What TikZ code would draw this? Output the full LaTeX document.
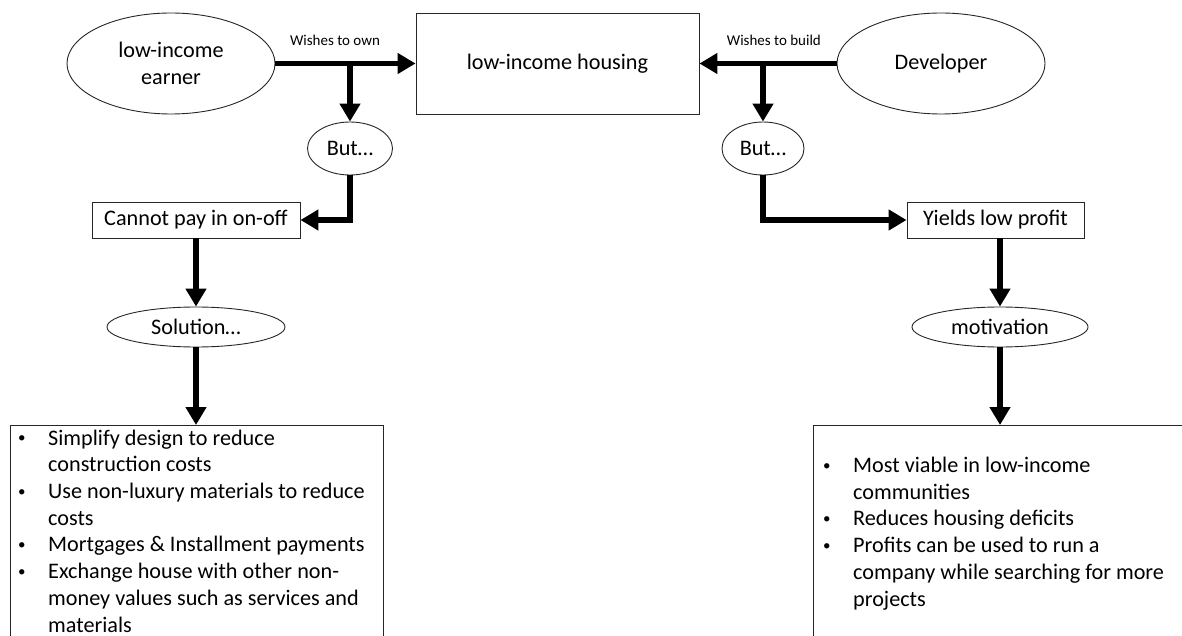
\documentclass[tikz,border=0pt]{standalone}
\usepackage{fontspec}
\setmainfont{Carlito}
\usetikzlibrary{arrows.meta,shapes.geometric}
\newcommand\bul{\makebox[29pt][l]{\hspace*{-1pt}{\fontsize{15}{15}\selectfont\raisebox{2.5pt}{\textbullet}}}}
\newcommand\ind{\hspace*{29pt}}
\begin{document}
\begin{tikzpicture}[x=1pt,y=-1pt,
  outline/.style={draw=black!85, line width=0.9pt},
  oval/.style={outline, ellipse, inner sep=0pt, align=center},
  box/.style={outline, rectangle, inner sep=0pt, align=center},
  flow/.style={line width=5.5pt, -{Triangle[length=18pt,width=20pt]}},
  main/.style={font=\fontsize{22.2}{26.7}\selectfont},
  note/.style={font=\fontsize{15}{18}\selectfont, inner sep=0pt},
  bullets/.style={main, align=left, inner sep=0pt, anchor=base west},
]
\useasboundingbox (0,0) rectangle (1182,636);
\clip (0,0) rectangle (1182,636);

% top row
\node[oval, main, minimum width=208, minimum height=101] (earner) at (171,63.5) {\raisebox{-2pt}{low-income}\\\raisebox{-2pt}{earner}};
\node[box, main, minimum width=283, minimum height=101] (housing) at (557.5,63.5) {low-income housing};
\node[oval, main, minimum width=208, minimum height=101] (developer) at (941,63.5) {Developer};

% "But..." ovals
\node[oval, main, minimum width=85, minimum height=53] (butL) at (350,148.5) {But…};
\node[oval, main, minimum width=82, minimum height=53] (butR) at (763,148.5) {But…};

% problem boxes
\node[box, main, minimum width=208, minimum height=36] (cannot) at (196,220) {Cannot pay in on-off};
\node[box, main, minimum width=177, minimum height=36] (yields) at (995.5,220) {Yields low profit};

% second ovals
\node[oval, main, minimum width=178, minimum height=40] (solution) at (196,327) {Solution…};
\node[oval, main, minimum width=176, minimum height=40] (motivation) at (1000,327) {motivation};

% list boxes (running past the lower edge)
\node[box, minimum width=373, minimum height=260, anchor=north west] (listL) at (10,425) {};
\node[box, minimum width=400, minimum height=260, anchor=north west] (listR) at (813,425) {};

% bullet texts, placed by the baseline of their last line
\node[bullets] (itemsL) at (19,632) {%
\bul Simplify design to reduce\\
\ind construction costs\\
\bul Use non-luxury materials to reduce\\
\ind costs\\
\bul Mortgages \& Installment payments\\
\bul Exchange house with other non-\\
\ind money values such as services and\\
\ind materials};

\node[bullets] (itemsR) at (824,606) {%
\bul Most viable in low-income\\
\ind communities\\
\bul Reduces housing deficits\\
\bul Profits can be used to run a\\
\ind company while searching for more\\
\ind projects};

% connectors
\coordinate (jL) at (350,63.5);
\coordinate (jR) at (763,63.5);
\draw[flow] (earner.east) -- node[note, pos=.425, above=15pt] (ownlbl) {Wishes to own} (housing.west);
\draw[flow] (developer.west) -- node[note, pos=.457, above=15pt] (buildlbl) {Wishes to build} (housing.east);
\draw[flow] (jL) -- (butL.north);
\draw[flow] (jR) -- (butR.north);
\draw[flow] (butL.south) |- (cannot.east);
\draw[flow] (butR.south) |- (yields.west);
\draw[flow] (cannot.south) -- (solution.north);
\draw[flow] (yields.south -| motivation.north) -- (motivation.north);
\draw[flow] (solution.south) -- (solution.south |- listL.north);
\draw[flow] (motivation.south) -- (motivation.south |- listR.north);
\end{tikzpicture}
\end{document}
